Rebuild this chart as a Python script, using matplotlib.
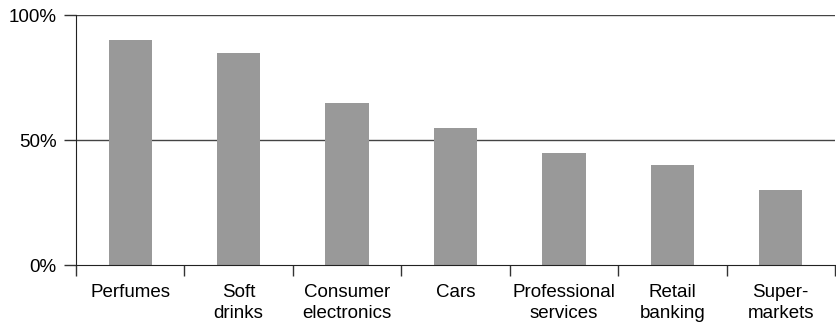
import numpy as np
import matplotlib.pyplot as plt
from matplotlib.ticker import FixedLocator, NullFormatter

plt.rcParams['font.family'] = ['Liberation Sans', 'DejaVu Sans']

categories = ["Perfumes", "Soft\ndrinks", "Consumer\nelectronics", "Cars",
              "Professional\nservices", "Retail\nbanking", "Super-\nmarkets"]
shares = [90, 85, 65, 55, 45, 40, 30]
y_ticks = [0, 50, 100]
y_labels = ["0%", "50%", "100%"]

fig = plt.figure(figsize=(8.37, 3.27), dpi=100)
ax = fig.add_axes([0.0908, 0.1896, 0.9068, 0.7644])

x = np.arange(len(categories))
ax.bar(x, shares, width=0.4, color="#999999", zorder=2)

ax.set_xlim(-0.5, len(categories) - 0.5)
ax.set_ylim(0, 100)

# gridlines at 50% and 100%
for v in y_ticks[1:]:
    ax.axhline(v, color="#444444", lw=1.0, zorder=1)

ax.set_yticks(y_ticks)
ax.set_yticklabels(y_labels, fontsize=13.5)
ax.tick_params(axis="y", length=9, width=1, pad=5, color="#333333")

# ticks at category boundaries, labels at centres
ax.xaxis.set_major_locator(FixedLocator(np.arange(len(categories) + 1) - 0.5))
ax.xaxis.set_major_formatter(NullFormatter())
ax.xaxis.set_minor_locator(FixedLocator(x))
ax.set_xticklabels(categories, minor=True, fontsize=13.5, linespacing=1.3)
ax.tick_params(axis="x", which="major", length=8, width=1, direction="out", color="#333333")
ax.tick_params(axis="x", which="minor", length=0, pad=14)

ax.spines["right"].set_visible(False)
ax.spines["top"].set_visible(False)
ax.spines["left"].set_color("#222222")
ax.spines["bottom"].set_color("#222222")

fig.savefig("out.png", dpi=100)
